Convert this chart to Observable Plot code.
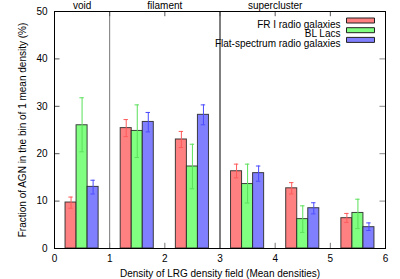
<!DOCTYPE html>
<html><head><meta charset="utf-8">
<script src="https://cdn.jsdelivr.net/npm/d3@7"></script>
<script src="https://cdn.jsdelivr.net/npm/@observablehq/plot@0.6"></script>
<style>body{margin:0;background:#fff}#c{position:relative;width:400px;height:279px}</style>
</head><body><div id="c"></div>
<script>
const bins = [0, 1, 2, 3, 4, 5];
const seriesNames = ["FR I radio galaxies", "BL Lacs", "Flat-spectrum radio galaxies"];
const frI = [9.7, 25.4, 23.0, 16.3, 12.7, 6.4];
const frILow = [8.5, 23.6, 21.3, 14.9, 11.5, 5.5];
const frIHigh = [10.85, 27.2, 24.7, 17.8, 13.9, 7.4];
const blLac = [26.0, 24.8, 17.3, 13.6, 6.2, 7.5];
const blLacLow = [20.4, 19.2, 12.6, 9.6, 3.4, 4.2];
const blLacHigh = [31.8, 30.3, 22.0, 17.8, 9.0, 10.4];
const flat = [13.0, 26.7, 28.2, 15.9, 8.5, 4.5];
const flatLow = [11.5, 24.6, 26.1, 14.2, 7.3, 3.8];
const flatHigh = [14.4, 28.7, 30.3, 17.4, 9.65, 5.4];
const regionNames = ["void", "filament", "supercluster"];
const regionCenters = [0.5, 2, 4];
const regionBounds = [1, 3];
const fills = ["#ff8080", "#80ff80", "#8080ff"];
const errColors = ["#ff5a5a", "#5ae05a", "#4a4aff"];
const xTicks = [0, 1, 2, 3, 4, 5, 6];
const yTicks = [0, 10, 20, 30, 40, 50];

const vals = [frI, blLac, flat], lows = [frILow, blLacLow, flatLow], highs = [frIHigh, blLacHigh, flatHigh];
const rows = [];
seriesNames.forEach((s, k) => bins.forEach((b, i) => {
  const x1 = b + 0.2 + 0.2 * k, x2 = x1 + 0.2;
  rows.push({series: s, k, x1, x2, xc: (x1 + x2) / 2, cl: (x1 + x2) / 2 - 0.04, cr: (x1 + x2) / 2 + 0.04,
    y: vals[k][i], lo: lows[k][i], hi: highs[k][i]});
}));

const rectSym = {draw(ctx) { ctx.moveTo(-14, -2.5); ctx.lineTo(14, -2.5); ctx.lineTo(14, 2.5); ctx.lineTo(-14, 2.5); ctx.closePath(); }};

const marks = [];
marks.push(Plot.rectY(rows, {x1: "x1", x2: "x2", y1: 0, y2: "y", fill: d => fills[d.k], stroke: "#222", strokeWidth: 1, strokeOpacity: 0.85}));
marks.push(Plot.ruleX(rows, {x: "xc", y1: "lo", y2: "hi", stroke: d => errColors[d.k], strokeWidth: 1}));
marks.push(Plot.ruleY(rows, {y: "lo", x1: "cl", x2: "cr", stroke: d => errColors[d.k], strokeWidth: 1}));
marks.push(Plot.ruleY(rows, {y: "hi", x1: "cl", x2: "cr", stroke: d => errColors[d.k], strokeWidth: 1}));
marks.push(Plot.ruleX(regionBounds, {stroke: (d, i) => i === 0 ? "#777" : "#000", strokeWidth: 1}));
// inward ticks
marks.push(Plot.ruleY(yTicks, {x1: 0, x2: 0.1, stroke: "#555"}));
marks.push(Plot.ruleY(yTicks, {x1: 5.9, x2: 6, stroke: "#888"}));
marks.push(Plot.ruleX(xTicks, {y1: 0, y2: 1.1, stroke: "#777"}));
marks.push(Plot.ruleX(xTicks, {y1: 48.9, y2: 50, stroke: "#555"}));
marks.push(Plot.text(regionNames, {x: (d, i) => regionCenters[i], y: 50, dy: -6, text: d => d, fontSize: 10, fill: "#000"}));
marks.push(Plot.frame({stroke: "#000", strokeWidth: 1}));
seriesNames.forEach((s, k) => {
  marks.push(Plot.text([s], {frameAnchor: "top-right", dx: -45, dy: 9 + k * 9.7, text: d => d, textAnchor: "end", fontSize: 10, fill: "#000"}));
  marks.push(Plot.dot([s], {frameAnchor: "top-right", dx: -25, dy: 9 + k * 9.7, symbol: rectSym, r: 1, fill: fills[k], stroke: "#222", strokeWidth: 1}));
});
marks.push(Plot.axisX(xTicks, {tickSize: 0, tickPadding: 6, fontSize: 10, label: "Density of LRG density field (Mean densities)", labelAnchor: "center", labelArrow: false, labelOffset: 28}));
marks.push(Plot.axisY(yTicks, {tickSize: 0, tickPadding: 7, fontSize: 10, label: "Fraction of AGN in the bin of 1 mean density (%)", labelAnchor: "center", labelArrow: false, labelOffset: 36}));

const chart = Plot.plot({
  width: 400, height: 279,
  marginLeft: 54, marginRight: 15, marginTop: 11, marginBottom: 31,
  style: {fontFamily: "'Liberation Sans', Arial, sans-serif", fontSize: "10px", background: "#fff", color: "#000"},
  x: {type: "linear", domain: [0, 6]},
  y: {type: "linear", domain: [0, 50]},
  marks
});
document.getElementById("c").appendChild(chart);
</script></body></html>
